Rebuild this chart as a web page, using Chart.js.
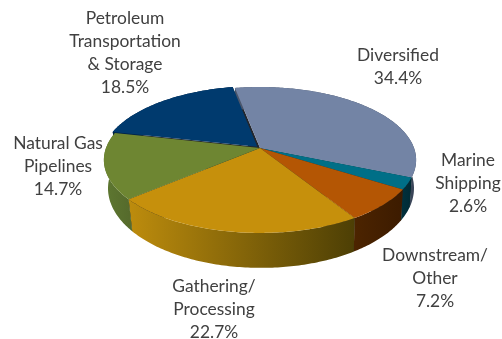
<!DOCTYPE html>
<html lang="en">
<head>
    <meta charset="UTF-8">
    <title>Segments</title>
    <script src="https://cdn.jsdelivr.net/npm/chart.js"></script>
    <style>
        body { margin: 0; background: #ffffff; }
        canvas { display: block; }
    </style>
</head>
<body>
    <canvas id="pie" width="502" height="339"></canvas>
    <script>
        const categories = ['Diversified', 'Marine Shipping', 'Downstream/ Other', 'Gathering/ Processing', 'Natural Gas Pipelines', 'Petroleum Transportation & Storage'];
        const shares = [34.4, 2.6, 7.2, 22.7, 14.7, 18.5];
        const topColors = ['#7384a5', '#006f87', '#b45604', '#c6900c', '#6e8632', '#003a6e'];
        const wallColors = [
            ['#4a566c', '#3a4558'], ['#00303c', '#002a34'], ['#4c2400', '#3c1b00'],
            ['#bd8c0d', '#4d3f05'], ['#5e7831', '#566b2c'], ['#002244', '#002244']
        ];
        const explode = [0, 0, 0, 0, 0, 16];
        const labelLines = [
            ['Diversified'], ['Marine', 'Shipping'], ['Downstream/', 'Other'],
            ['Gathering/', 'Processing'], ['Natural Gas', 'Pipelines'], ['Petroleum', 'Transportation', '& Storage']
        ];

        // center x and y of each label block's first line
        const labelPos = [[398, 55], [468, 160], [435, 255], [214, 286], [58, 143], [125, 18]];

        // tilted disc: the near side is pulled toward the viewer
        const view = { cx: 260, cy: 148, rx: 154, ry: 71, k: -0.164, depthX: 1, depthY: 27.3, lowerX: 0.98, lowerY: 1.09 };

        function project(u, v, lower) {
            const w = 1 + view.k * v;
            const x = view.rx * u / w;
            const y = view.ry * v / w;
            return lower
                ? [view.cx + x * view.lowerX + view.depthX, view.cy + y * view.lowerY + view.depthY]
                : [view.cx + x, view.cy + y];
        }

        function arcPoints(arc, lower) {
            const opts = arc.options;
            const mid = (arc.startAngle + arc.endAngle) / 2;
            const shift = (opts.offset || 0) / 4 / arc.outerRadius;
            const du = Math.cos(mid) * shift;
            const dv = Math.sin(mid) * shift;
            const steps = Math.ceil((arc.endAngle - arc.startAngle) / 0.015);
            const pts = [];
            for (let i = 0; i <= steps; i++) {
                const a = arc.startAngle + (arc.endAngle - arc.startAngle) * i / steps;
                pts.push(project(Math.cos(a) + du, Math.sin(a) + dv, lower));
            }
            return { pts, apex: project(du, dv, lower) };
        }

        function fillPath(ctx, pts, fill) {
            ctx.beginPath();
            pts.forEach((p, i) => i ? ctx.lineTo(p[0], p[1]) : ctx.moveTo(p[0], p[1]));
            ctx.closePath();
            ctx.fillStyle = fill;
            ctx.fill();
        }

        const tiltedPie = {
            id: 'tiltedPie',
            beforeDatasetsDraw(chart) {
                const ctx = chart.ctx;
                const arcs = chart.getDatasetMeta(0).data;
                ctx.save();

                // cut faces, only seen through the gap around the pulled slice
                arcs.forEach((arc, i) => {
                    const top = arcPoints(arc, false);
                    const low = arcPoints(arc, true);
                    const first = top.pts[0];
                    const last = top.pts[top.pts.length - 1];
                    fillPath(ctx, [top.apex, first, low.pts[0], low.apex], '#23262c');
                    fillPath(ctx, [top.apex, last, low.pts[low.pts.length - 1], low.apex], '#23262c');
                });

                // outer walls
                arcs.forEach((arc, i) => {
                    const top = arcPoints(arc, false).pts;
                    const low = arcPoints(arc, true).pts;
                    const xs = top.map(p => p[0]);
                    const grad = ctx.createLinearGradient(Math.min(...xs), 0, Math.max(...xs), 0);
                    grad.addColorStop(0, wallColors[i][0]);
                    grad.addColorStop(1, wallColors[i][1]);
                    fillPath(ctx, top.concat(low.reverse()), grad);
                });

                // top faces
                arcs.forEach((arc, i) => {
                    const top = arcPoints(arc, false);
                    fillPath(ctx, [top.apex].concat(top.pts), topColors[i]);
                });

                ctx.restore();
                return false;
            },
            afterDraw(chart) {
                const ctx = chart.ctx;
                ctx.save();
                ctx.font = '17.4px Lato';
                ctx.fillStyle = '#404040';
                ctx.textAlign = 'center';
                ctx.textBaseline = 'middle';
                labelLines.forEach((lines, i) => {
                    const rows = lines.concat(shares[i].toFixed(1) + '%');
                    rows.forEach((row, r) => {
                        ctx.fillText(row, labelPos[i][0], labelPos[i][1] + r * 23);
                    });
                });
                ctx.restore();
            }
        };

        new Chart(document.getElementById('pie'), {
            type: 'pie',
            data: {
                labels: categories,
                datasets: [{ data: shares, backgroundColor: topColors, offset: explode, borderWidth: 0 }]
            },
            options: {
                responsive: false,
                animation: false,
                rotation: -10.9,
                plugins: { legend: { display: false }, tooltip: { enabled: false } }
            },
            plugins: [tiltedPie]
        });
    </script>
</body>
</html>
